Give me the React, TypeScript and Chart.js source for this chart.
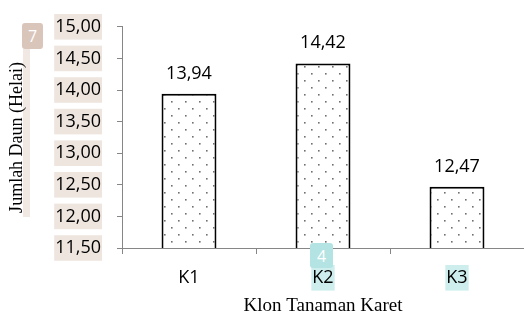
import React, { useEffect, useRef } from 'react';
import { Chart, registerables } from 'chart.js';

Chart.register(...registerables);

const categories = ['K1', 'K2', 'K3'];
const values = [13.94, 14.42, 12.47];
const yMin = 11.5;
const yMax = 15;
const yStep = 0.5;
const yTitle = 'Jumlah Daun (Helai)';
const xTitle = 'Klon Tanaman Karet';

const fmt = (v: number) => v.toFixed(2).replace('.', ',');

function makePattern(): CanvasPattern | string {
  const c = document.createElement('canvas');
  c.width = 14;
  c.height = 14;
  const g = c.getContext('2d');
  if (!g) return '#fff';
  g.fillStyle = '#ffffff';
  g.fillRect(0, 0, 14, 14);
  g.fillStyle = '#707070';
  g.fillRect(3, 3, 1.6, 1.6);
  g.fillRect(10, 10, 1.6, 1.6);
  return g.createPattern(c, 'repeat') || '#fff';
}

const sansFont = { family: '"Open Sans", "Noto Sans", sans-serif', size: 18 };
const serifYFont = { family: '"Liberation Serif", "DejaVu Serif", serif', size: 18 };
const serifXFont = { family: '"Liberation Serif", "DejaVu Serif", serif', size: 19 };

const labelPlugin = {
  id: 'barLabels',
  afterDatasetsDraw(chart: any) {
    const ctx = chart.ctx;
    const meta = chart.getDatasetMeta(0);
    ctx.save();
    ctx.font = `${sansFont.size}px ${sansFont.family}`;
    ctx.fillStyle = '#000';
    ctx.textAlign = 'center';
    ctx.textBaseline = 'alphabetic';
    meta.data.forEach((bar: any, i: number) => {
      ctx.fillText(fmt(values[i]), bar.x, bar.y - 15);
    });
    ctx.restore();
  },
};

export default function App() {
  const ref = useRef<HTMLCanvasElement>(null);

  useEffect(() => {
    document.body.style.margin = '0';
    if (!ref.current) return;
    const chart = new Chart(ref.current, {
      type: 'bar',
      data: {
        labels: categories,
        datasets: [
          {
            data: values,
            backgroundColor: makePattern() as any,
            borderColor: '#000',
            borderWidth: 2,
            barPercentage: 0.41,
            categoryPercentage: 1,
          },
        ],
      },
      options: {
        animation: false,
        responsive: false,
        maintainAspectRatio: false,
        layout: { padding: { top: 22, right: 0, left: 0, bottom: 0 } },
        plugins: { legend: { display: false }, tooltip: { enabled: false } },
        scales: {
          x: {
            grid: {
              display: true,
              drawOnChartArea: false,
              offset: true,
              tickLength: 6,
              color: '#868686',
            },
            border: { color: '#868686', width: 1 },
            ticks: {
              font: sansFont,
              color: '#000',
              padding: 13,
              showLabelBackdrop: true,
              backdropColor: (c: any) => (c.index === 0 ? 'rgba(0,0,0,0)' : '#cdeeed'),
              backdropPadding: { top: 2, bottom: 2, left: 1, right: 1 },
            } as any,
            title: {
              display: true,
              text: xTitle,
              font: serifXFont,
              color: '#000',
              padding: { top: 0, bottom: -3 },
            },
            afterFit: (s: any) => {
              s.height = 66;
            },
          },
          y: {
            min: yMin,
            max: yMax,
            grid: {
              display: true,
              drawOnChartArea: false,
              tickLength: 5,
              color: '#868686',
            },
            border: { color: '#868686', width: 1 },
            ticks: {
              stepSize: yStep,
              callback: (v: any) => fmt(Number(v)),
              font: sansFont,
              color: '#000',
              padding: 16,
              showLabelBackdrop: true,
              backdropColor: '#eee5df',
              backdropPadding: { top: 2, bottom: 2, left: 1, right: 1 },
            } as any,
            title: {
              display: true,
              text: yTitle,
              font: serifYFont,
              color: '#000',
              padding: { top: 6, bottom: 0 },
            },
            afterFit: (s: any) => {
              s.width = 122;
            },
          },
        },
      },
      plugins: [labelPlugin],
    });
    return () => chart.destroy();
  }, []);

  return (
    <div style={{ position: 'relative', width: 524, height: 314, background: '#fff' }}>
      <div
        style={{
          position: 'absolute',
          left: 23,
          top: 49,
          width: 7,
          height: 168,
          background: '#f1e8e3',
          zIndex: 0,
        }}
      />
      <canvas
        ref={ref}
        width={524}
        height={314}
        style={{ position: 'absolute', left: 0, top: 0, zIndex: 1 }}
      />
      <div
        style={{
          position: 'absolute',
          left: 22,
          top: 23,
          width: 21,
          height: 26,
          background: '#d9c5ba',
          borderRadius: 3,
          color: '#fff',
          font: '16px "Open Sans", sans-serif',
          display: 'flex',
          alignItems: 'center',
          justifyContent: 'center',
          zIndex: 2,
        }}
      >
        7
      </div>
      <div
        style={{
          position: 'absolute',
          left: 310,
          top: 243,
          width: 23,
          height: 25,
          background: '#b3e3e2',
          borderRadius: 3,
          color: '#fff',
          font: '16px "Open Sans", sans-serif',
          display: 'flex',
          alignItems: 'center',
          justifyContent: 'center',
          zIndex: 2,
        }}
      >
        4
      </div>
    </div>
  );
}
